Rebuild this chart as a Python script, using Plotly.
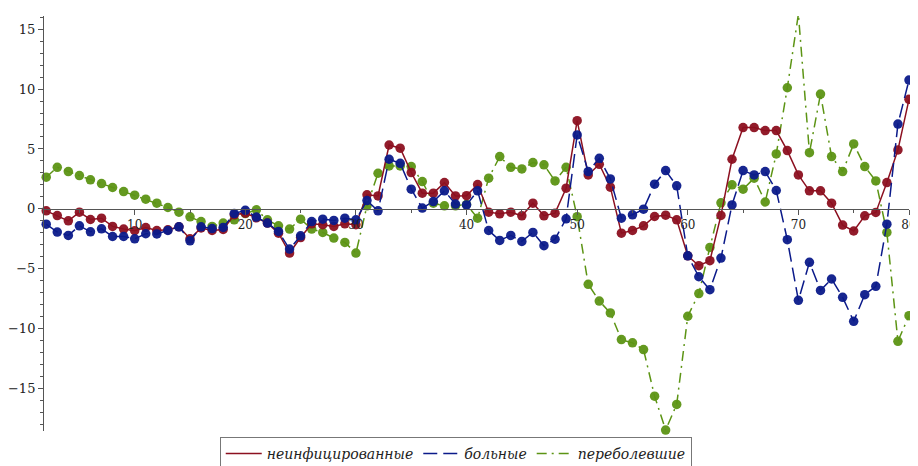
import plotly.graph_objects as go

# time steps
days = list(range(2, 81))

# неинфицированные
healthy = [-0.17, -0.56, -1.0, -0.28, -0.89, -0.78, -1.47, -1.69, -1.83, -1.56,
           -1.81, -1.75, -1.5, -2.5, -1.6, -1.8, -1.72, -0.5, -0.36, -0.75,
           -1.19, -2.03, -3.69, -2.4, -1.25, -1.33, -1.47, -1.25, -1.33, 1.17,
           1.08, 5.33, 5.06, 3.03, 1.31, 1.31, 2.19, 1.08, 1.1, 2.03,
           -0.28, -0.42, -0.28, -0.58, 0.47, -0.58, -0.36, 1.72, 7.36, 2.83,
           3.72, 1.81, -2.03, -1.81, -1.42, -0.64, -0.53, -0.92, -3.92, -4.75,
           -4.33, -0.55, 4.14, 6.78, 6.78, 6.53, 6.53, 4.86, 2.83, 1.5,
           1.5, 0.47, -1.36, -1.85, -0.58, -0.3, 2.19, 4.92, 9.14]

# больные
sick = [-1.28, -1.94, -2.22, -1.42, -1.92, -1.67, -2.31, -2.31, -2.5, -2.08,
        -2.1, -1.81, -1.5, -2.67, -1.5, -1.65, -1.55, -0.4, -0.12, -0.69,
        -1.19, -1.89, -3.36, -2.25, -1.06, -0.86, -0.97, -0.78, -0.92, 0.69,
        -0.17, 4.14, 3.8, 1.64, 0.06, 0.61, 1.5, 0.4, 0.33, 1.5,
        -1.81, -2.64, -2.22, -2.72, -1.97, -3.08, -2.53, -0.83, 6.17, 3.11,
        4.22, 2.5, -0.78, -0.5, -0.03, 2.06, 3.19, 1.92, -3.92, -5.67,
        -6.75, -4.11, 0.33, 3.19, 2.83, 3.11, 1.53, -2.58, -7.64, -4.47,
        -6.81, -5.86, -7.39, -9.39, -7.17, -6.47, -1.28, 7.08, 10.75]

# переболевшие
recovered = [2.64, 3.47, 3.11, 2.78, 2.42, 2.11, 1.78, 1.44, 1.14, 0.81,
             0.47, 0.11, -0.28, -0.67, -1.06, -1.47, -1.19, -0.92, -0.4, -0.08,
             -0.92, -1.42, -1.69, -0.86, -1.69, -1.97, -2.44, -2.81, -3.69, 0.25,
             2.97, 3.58, 3.58, 3.53, 2.28, 0.47, 0.25, 0.25, 0.36, -0.78,
             2.56, 4.36, 3.47, 3.33, 3.86, 3.67, 2.33, 3.47, -0.66, -6.3,
             -7.7, -8.69, -10.92, -11.19, -11.75, -15.64, -18.47, -16.33, -8.97, -7.08,
             -3.22, 0.5, 2.0, 1.64, 2.56, 0.57, 4.58, 10.11, 16.25, 4.69,
             9.58, 4.36, 3.11, 5.42, 3.53, 2.33, -1.97, -11.06, -8.92]

names = ["неинфицированные", "больные", "переболевшие"]
colors = ["#8c1020", "#0b1a8a", "#5c9414"]
dashes = ["solid", "14px,6px", "10px,5px,2px,5px"]
series = [healthy, sick, recovered]

serif = "DejaVu Serif"

fig = go.Figure()

# data, drawn green -> red -> blue
for i in [2, 0, 1]:
    fig.add_trace(go.Scatter(
        x=days, y=series[i], mode="lines+markers", showlegend=False,
        line=dict(color=colors[i], width=1.5, dash=dashes[i]),
        marker=dict(color=colors[i], size=9.5, opacity=0.95),
        cliponaxis=False))

# legend entries (line only, like the original)
for i in range(3):
    fig.add_trace(go.Scatter(
        x=[None], y=[None], mode="lines", name=names[i],
        line=dict(color=colors[i], width=1.5, dash=dashes[i])))

# page has an 8px body margin, so the figure is 8px smaller each way
ymin, ymax = -18.55, 16.1
fig.update_layout(
    width=910, height=458,
    margin=dict(l=36, r=9, t=8, b=35, autoexpand=False),
    plot_bgcolor="white", paper_bgcolor="white",
    font=dict(family=serif, size=13, color="#222"),
    legend=dict(orientation="h", x=0.476, xanchor="center",
                y=-0.0145, yanchor="top",
                bordercolor="#777", borderwidth=1, bgcolor="white",
                font=dict(family=serif, size=14, style="italic"),
                itemwidth=36, tracegroupgap=0),
)
fig.update_xaxes(
    range=[1.8, 80], anchor="free", position=(0 - ymin) / (ymax - ymin),
    showgrid=False, zeroline=False, showline=True, linecolor="#555", linewidth=1,
    tickvals=[10, 20, 30, 40, 50, 60, 70, 80], ticks="outside", ticklen=5,
    tickcolor="#555", tickfont=dict(size=12),
    minor=dict(tickvals=[5, 15, 25, 35, 45, 55, 65, 75], ticks="outside", ticklen=3,
               tickcolor="#555"),
)
fig.update_yaxes(
    range=[ymin, ymax], showgrid=False, zeroline=False, showline=True,
    linecolor="#555", linewidth=1, tickvals=[-15, -10, -5, 0, 5, 10, 15],
    ticktext=["\u221215", "\u221210", "\u22125", "0", "5", "10", "15"],
    ticks="outside", ticklen=5, tickcolor="#555",
    minor=dict(dtick=1, ticks="outside", ticklen=3, tickcolor="#555"),
)

fig.write_html("out.html")
